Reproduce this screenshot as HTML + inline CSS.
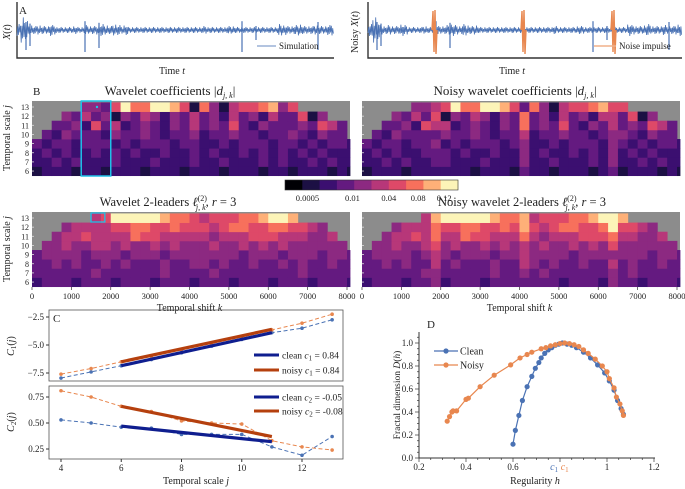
<!DOCTYPE html>
<html><head><meta charset="utf-8">
<style>
html,body{margin:0;padding:0;background:#fff;}
svg{display:block;font-family:"Liberation Serif",serif;}
</style></head>
<body>
<svg id="fig" width="685" height="489" viewBox="0 0 685 489"></svg>
<script>
// ---------- DATA ----------
const envClean = [6,14,9,5,4,5,4,4,6,5,3,3,3,3,4,3,3,5,4,4,5,6,5,4,6,5,4,5,3,3,3,3,3,3,3,3,3,3,3,3,3,3,3,3,3,3,3,4,3,3,3,3,3,4,4,3,3,3,3,3,3,3,3,3,3,3,6,5,4,4,5,6,4,4,4,5,4,4,5,6];
const spikeCleanX = [9,13,68,82,225,239,301];
const spikeCleanLen = [20,16,22,18,22,10,20];
const impulseX = [66,155,245];
const sigPattern = [1,-0.6,0.8,-1,0.4,-0.7,0.9,-0.3,0.6,-0.9,0.5,-0.5];

const coefRows = {
 13:"-----4436977998617415667846------",
 12:"---435341435424353425342533614---",
 11:"--334263523432435343632433343653-",
 10:"-3243332433432334233433233432433-",
 9: "323323332323332332232333233232332",
 8: "232322323232232232322323232323222",
 7: "223232223222322232232223232232322",
 6: "122212212221222122212221221222121"
};
const leaderRows = {
 13:"------569999987765666778998------",
 12:"---455556677667666567766776654---",
 11:"--45565555766555554555666555445--",
 10:"-4454455454454544454454545444444-",
 9: "344443444344434444444344434443443",
 8: "334343343433343344343343343433433",
 7: "333333433333343333433333333433333",
 6: "233323332333233323332333233323332"
};
const noisyCols = [7,16,25];
const cbTicks = ["0.0005","0.01","0.04","0.08","0.12"];
const cbTickPos = [0.13,0.39,0.6,0.77,0.92];
const kTicks = [0,1000,2000,3000,4000,5000,6000,7000,8000];

const scales = [4,5,6,7,8,9,10,11,12,13];
const c1Clean = [-7.95,-7.4,-6.85,-6.3,-5.7,-5.1,-4.5,-3.9,-3.5,-2.75];
const c1Noisy = [-7.6,-7.1,-6.5,-6.0,-5.4,-4.85,-4.25,-3.65,-3.05,-2.25];
const c2Clean = [0.53,0.50,0.46,0.45,0.39,0.39,0.39,0.27,0.19,0.37];
const c2Noisy = [0.81,0.75,0.66,0.61,0.52,0.50,0.49,0.33,0.27,0.24];
const fitRange = [6,11];
const fitC1Clean = [-6.85,-3.9];
const fitC1Noisy = [-6.5,-3.6];
const fitC2Clean = [0.47,0.32];
const fitC2Noisy = [0.66,0.37];

const hClean = [0.60,0.61,0.625,0.64,0.66,0.68,0.695,0.71,0.72,0.735,0.75,0.765,0.78,0.795,0.81,0.83,0.85,0.87,0.9,0.93,0.96,0.99,1.01,1.03,1.045,1.06,1.07];
const dClean = [0.12,0.24,0.37,0.50,0.62,0.71,0.78,0.83,0.87,0.91,0.94,0.96,0.98,0.99,1.0,0.99,0.98,0.96,0.92,0.87,0.81,0.74,0.67,0.59,0.50,0.43,0.38];
const hNoisy = [0.32,0.33,0.34,0.345,0.36,0.40,0.41,0.46,0.52,0.59,0.63,0.66,0.68,0.72,0.74,0.76,0.78,0.80,0.82,0.84,0.86,0.88,0.90,0.92,0.95,0.98,1.0,1.01,1.03,1.04,1.055,1.065,1.07];
const dNoisy = [0.32,0.36,0.40,0.41,0.41,0.51,0.52,0.62,0.72,0.81,0.87,0.90,0.92,0.95,0.96,0.975,0.985,0.995,1.0,0.995,0.985,0.97,0.94,0.91,0.86,0.80,0.75,0.69,0.61,0.53,0.47,0.41,0.37];
const hTicks = [0.2,0.4,0.6,0.8,1.0,1.2];
const hTickLabels = ["0.2","0.4","0.6","","1","1.2"];
const dTicks = [0,0.2,0.4,0.6,0.8,1.0];

// ---------- HELPERS ----------
const NS="http://www.w3.org/2000/svg";
const svg=document.getElementById('fig');
function mk(tag,attrs,parent){const e=document.createElementNS(NS,tag);for(const k in attrs)e.setAttribute(k,attrs[k]);(parent||svg).appendChild(e);return e;}
function txt(x,y,s,opts,name){const e=mk('text',Object.assign({x:x,y:y,'font-size':10,fill:'#222'},opts||{}));e.innerHTML=s;


return e;}
const BLUE="#4a72b4", ORANGE="#e8874f", NAVY="#0f1e8f", BROWN="#b5400e";
const magma=["#000004","#1c1044","#3b0f70","#641a80","#8c2981","#b73779","#de4968","#f7705c","#feb078","#fcf4b8"];

// ---------- PANEL A ----------
function series(x0,x1,yc,env,spX,spL,color,gName){
 const g=mk('g',{});
 
 
 let d="";
 for(let x=x0;x<x1;x+=0.7){
  const i=Math.min(env.length-1,Math.floor((x-x0)/((x1-x0)/env.length)));
  const p=sigPattern[Math.floor(x*1.43)%sigPattern.length];
  d+=(d?"L":"M")+x.toFixed(1)+","+(yc+env[i]*p).toFixed(1);
 }
 mk('path',{d:d,stroke:color,'stroke-width':0.8,fill:'none'},g);
 spX.forEach((sx,i)=>{mk('line',{x1:x0+sx,x2:x0+sx,y1:yc-spL[i]*0.4,y2:yc+spL[i],stroke:color,'stroke-width':1.2},g);});
 return g;
}
function axesA(x0,x1,name){
 const p=mk('path',{d:`M${x0},2 L${x0},58 L${x1},58`,stroke:'#333','stroke-width':1.4,fill:'none'});
 
 
}
axesA(17,334,'signal-axes');
series(17,334,30,envClean,spikeCleanX,spikeCleanLen,BLUE,'clean-signal');
txt(19,14,"A",{'font-size':11},'panel-label-a');
txt(10,32,"<tspan font-style='italic'>X</tspan>(<tspan font-style='italic'>t</tspan>)",{'font-size':10,transform:'rotate(-90 10 32)','text-anchor':'middle'},'y-axis-title-signal');
txt(172,74,"Time <tspan font-style='italic'>t</tspan>",{'font-size':10,'text-anchor':'middle'},'x-axis-title-time');
mk('line',{x1:257,x2:276,y1:46,y2:46,stroke:'#9ab0d6','stroke-width':1.5});
txt(279,49,"Simulation",{'font-size':9},'legend-simulation');

axesA(368,682,'noisy-signal-axes');
series(368,682,30,envClean,spikeCleanX,spikeCleanLen,BLUE,'noisy-signal');
impulseX.forEach((ix,i)=>{
 const ln=mk('path',{d:`M${368+ix-2},${30} L${368+ix-1},${11} L${368+ix},${52} L${368+ix+1},${10} L${368+ix+2},${54} L${368+ix+3},${30}`,stroke:ORANGE,'stroke-width':1.4,fill:'none'});
 
 
});
txt(358,32,"Noisy <tspan font-style='italic'>X</tspan>(<tspan font-style='italic'>t</tspan>)",{'font-size':10,transform:'rotate(-90 358 32)','text-anchor':'middle'},'y-axis-title-noisy-signal');
txt(512,74,"Time <tspan font-style='italic'>t</tspan>",{'font-size':10,'text-anchor':'middle'},'x-axis-title-time-noisy');
mk('line',{x1:594,x2:616,y1:46,y2:46,stroke:'#f0b08a','stroke-width':1.5});
txt(619,49,"Noise impulse",{'font-size':9},'legend-noise-impulse');

// ---------- PANEL B ----------
function heatmap(x0,yTop,rows,noisy,name){
 const W=315, xs=k=>x0+k*W/8000, rowH=9.15;
 const y13=yTop+6;
 const g=mk('g',{});
 
 
 mk('rect',{x:x0,y:yTop,width:W+3,height:75,fill:'#8c8c8c'},g);
 for(let j=6;j<=13;j++){
  const s=rows[j];
  const y=y13+(13-j)*rowH-rowH/2;
  for(let i=0;i<s.length;i++){
   if(s[i]==='-')continue;
   let v=+s[i];
   if(noisy&&noisyCols.includes(i))v=Math.min(9,v+(j>=11?2:1));
   const x=xs(i*250), w=Math.min(xs((i+1)*250),x0+W+3)-x;
   const c=mk('rect',{x:x.toFixed(2),y:y.toFixed(2),width:(w+0.4).toFixed(2),height:rowH+0.4,fill:magma[v]},g);
   
   
  }
  mk('line',{x1:x0,x2:x0+2,y1:y+rowH/2,y2:y+rowH/2,stroke:'#ddd','stroke-width':0.8},g);
 }
 return {g:g,xs:xs,y13:y13,rowH:rowH};
}
function yLabelsHeat(x0,yTop,name){
 for(let j=6;j<=13;j++){
  txt(x0-3,yTop+6+(13-j)*9.15+3,String(j),{'font-size':8,'text-anchor':'end'},'y-tick-label');
 }
 txt(10,yTop+37,"Temporal scale <tspan font-style='italic'>j</tspan>",{'font-size':10,transform:`rotate(-90 10 ${yTop+37})`,'text-anchor':'middle'},name);
}
txt(33,95,"B",{'font-size':11},'panel-label-b');
txt(170,95,"Wavelet coefficients |<tspan font-style='italic'>d</tspan><tspan font-size='8' dy='3' font-style='italic'>j, k</tspan><tspan dy='-3'>|</tspan>",{'font-size':13,'text-anchor':'middle'},'title-wavelet-coefficients');
txt(515,95,"Noisy wavelet coefficients |<tspan font-style='italic'>d</tspan><tspan font-size='8' dy='3' font-style='italic'>j, k</tspan><tspan dy='-3'>|</tspan>",{'font-size':13,'text-anchor':'middle'},'title-noisy-wavelet-coefficients');
const h1=heatmap(32,101,coefRows,false,'heatmap-coefficients');
const h2=heatmap(362,101,coefRows,true,'heatmap-noisy-coefficients');
yLabelsHeat(32,101,'y-axis-title-scale-top');
const sel=mk('rect',{x:h1.xs(1250),y:101,width:h1.xs(2000)-h1.xs(1250),height:75,fill:'none',stroke:'#1ec0e8','stroke-width':1.5});


mk('circle',{cx:h1.xs(1650),cy:107,r:1.2,fill:'#1ec0e8'});

const cbg=mk('g',{});


magma.forEach((c,i)=>mk('rect',{x:285+i*17.3,y:180,width:17.8,height:10,fill:c},cbg));
mk('rect',{x:285,y:180,width:173,height:10,fill:'none',stroke:'#333','stroke-width':0.6},cbg);
cbTicks.forEach((t,i)=>txt(285+cbTickPos[i]*173,201,t,{'font-size':8.5,'text-anchor':'middle'},'colorbar-tick-label'));

function leaderTitle(cx,prefix,name){
 const t=txt(cx,206,prefix+" <tspan font-style='italic'>ℓ</tspan><tspan font-size='8' dy='-5'>(2)</tspan><tspan font-size='8' dx='-11' dy='9' font-style='italic'>j, k</tspan><tspan dy='-4'>, </tspan><tspan font-style='italic'>r</tspan> = 3",{'font-size':12.5,'text-anchor':'middle'},name);
 return t;
}
leaderTitle(168,"Wavelet 2-leaders",'title-wavelet-leaders');
leaderTitle(522,"Noisy wavelet 2-leaders",'title-noisy-wavelet-leaders');
const h3=heatmap(32,212,leaderRows,false,'heatmap-leaders');
const h4=heatmap(362,212,leaderRows,true,'heatmap-noisy-leaders');
yLabelsHeat(32,212,'y-axis-title-scale-bottom');
const sel2=mk('rect',{x:h3.xs(1500),y:213,width:h3.xs(1850)-h3.xs(1500),height:9,fill:'none',stroke:'#1ec0e8','stroke-width':1.3});


[h3,h4].forEach((h,hi)=>{
 kTicks.forEach(k=>{
  mk('line',{x1:h.xs(k),x2:h.xs(k),y1:287,y2:290,stroke:'#333','stroke-width':0.7});
  txt(h.xs(k),299,String(k),{'font-size':8.5,'text-anchor':'middle'},'x-tick-label');
 });
 txt(h.xs(4000),311,"Temporal shift <tspan font-style='italic'>k</tspan>",{'font-size':10,'text-anchor':'middle'},hi?'x-axis-title-shift-noisy':'x-axis-title-shift');
});

// ---------- PANEL C ----------
const cx=j=>61+(j-4)*(302-61)/8;
const cy1=v=>317+(-2.5-v)*(373-317)/5;
const cy2=v=>397+(0.75-v)*(449-397)/0.5;
function frame(x,y,w,h,name){const r=mk('rect',{x:x,y:y,width:w,height:h,fill:'none',stroke:'#555','stroke-width':0.8});}
frame(49,310,294,71,'c1-axes');
frame(49,386,294,73,'c2-axes');
function dashed(xsArr,ys,fy,color,name){
 const d=xsArr.map((j,i)=>(i?'L':'M')+cx(j).toFixed(1)+','+fy(ys[i]).toFixed(1)).join('');
 const p=mk('path',{d:d,stroke:color,'stroke-width':1,'stroke-dasharray':'4,2.5',fill:'none'});
 
 
 xsArr.forEach((j,i)=>{const c=mk('circle',{cx:cx(j),cy:fy(ys[i]),r:1.8,fill:color});
 
 });
}
function fit(vals,fy,color,name){
 const l=mk('line',{x1:cx(fitRange[0]),x2:cx(fitRange[1]),y1:fy(vals[0]),y2:fy(vals[1]),stroke:color,'stroke-width':3.2});
 
 
}
dashed(scales,c1Clean,cy1,BLUE,'c1-clean');
dashed(scales,c1Noisy,cy1,ORANGE,'c1-noisy');
fit(fitC1Clean,cy1,NAVY,'c1-clean-fit');
fit(fitC1Noisy,cy1,BROWN,'c1-noisy-fit');
dashed(scales,c2Clean,cy2,BLUE,'c2-clean');
dashed(scales,c2Noisy,cy2,ORANGE,'c2-noisy');
fit(fitC2Clean,cy2,NAVY,'c2-clean-fit');
fit(fitC2Noisy,cy2,BROWN,'c2-noisy-fit');
[-2.5,-5.0,-7.5].forEach(v=>{mk('line',{x1:46,x2:49,y1:cy1(v),y2:cy1(v),stroke:'#333'});txt(44,cy1(v)+3,v.toFixed(1).replace('-','−'),{'font-size':9,'text-anchor':'end'},'c1-y-tick-label');});
[0.75,0.5,0.25].forEach(v=>{mk('line',{x1:46,x2:49,y1:cy2(v),y2:cy2(v),stroke:'#333'});txt(44,cy2(v)+3,v.toFixed(2),{'font-size':9,'text-anchor':'end'},'c2-y-tick-label');});
[4,6,8,10,12].forEach(j=>{mk('line',{x1:cx(j),x2:cx(j),y1:459,y2:462,stroke:'#333'});txt(cx(j),471,String(j),{'font-size':9,'text-anchor':'middle'},'c-x-tick-label');});
txt(196,484,"Temporal scale <tspan font-style='italic'>j</tspan>",{'font-size':10,'text-anchor':'middle'},'x-axis-title-scale');
txt(53,322,"C",{'font-size':11},'panel-label-c');
txt(14,346,"<tspan font-style='italic'>C</tspan><tspan font-size='7' dy='2'>1</tspan><tspan dy='-2'>(</tspan><tspan font-style='italic'>j</tspan>)",{'font-size':10,transform:'rotate(-90 14 346)','text-anchor':'middle'},'y-axis-title-c1');
txt(14,422,"<tspan font-style='italic'>C</tspan><tspan font-size='7' dy='2'>2</tspan><tspan dy='-2'>(</tspan><tspan font-style='italic'>j</tspan>)",{'font-size':10,transform:'rotate(-90 14 422)','text-anchor':'middle'},'y-axis-title-c2');
function legC(y,color,label,name){mk('line',{x1:254,x2:279,y1:y,y2:y,stroke:color,'stroke-width':3});txt(282,y+3.5,label,{'font-size':9.5},name);}
legC(355,NAVY,"clean <tspan font-style='italic'>c</tspan><tspan font-size='7' dy='2'>1</tspan><tspan dy='-2'> = 0.84</tspan>",'legend-clean-c1');
legC(370,BROWN,"noisy <tspan font-style='italic'>c</tspan><tspan font-size='7' dy='2'>1</tspan><tspan dy='-2'> = 0.84</tspan>",'legend-noisy-c1');
legC(397,NAVY,"clean <tspan font-style='italic'>c</tspan><tspan font-size='7' dy='2'>2</tspan><tspan dy='-2'> = -0.05</tspan>",'legend-clean-c2');
legC(411,BROWN,"noisy <tspan font-style='italic'>c</tspan><tspan font-size='7' dy='2'>2</tspan><tspan dy='-2'> = -0.08</tspan>",'legend-noisy-c2');

// ---------- PANEL D ----------
const dx=h=>419+(h-0.2)*235;
const dy=v=>458-v*115;
const axD=mk('path',{d:'M419,332 L419,458 L655,458',stroke:'#333','stroke-width':1,fill:'none'});


for(let h=0.2;h<=1.2001;h+=0.05){mk('line',{x1:dx(h),x2:dx(h),y1:458,y2:Math.abs(h*5-Math.round(h*5))<0.01?462:460,stroke:'#333','stroke-width':0.7});}
for(let v=0;v<=1.0501;v+=0.05){mk('line',{x1:419,x2:Math.abs(v*5-Math.round(v*5))<0.01?415:417,y1:dy(v),y2:dy(v),stroke:'#333','stroke-width':0.7});}
hTicks.forEach((h,i)=>txt(dx(h),470,hTickLabels[i],{'font-size':9,'text-anchor':'middle'},'d-x-tick-label'));
dTicks.forEach(v=>txt(413,dy(v)+3,v.toFixed(1),{'font-size':9,'text-anchor':'end'},'d-y-tick-label'));
txt(dx(0.775),470,"<tspan font-style='italic'>c</tspan><tspan font-size='7' dy='2'>1</tspan>",{'font-size':10,'text-anchor':'middle',fill:BLUE},'c1-clean-marker-label');
txt(dx(0.82),470,"<tspan font-style='italic'>c</tspan><tspan font-size='7' dy='2'>1</tspan>",{'font-size':10,'text-anchor':'middle',fill:ORANGE},'c1-noisy-marker-label');
function spec(hs,ds,color,name){
 const d=hs.map((h,i)=>(i?'L':'M')+dx(h).toFixed(1)+','+dy(ds[i]).toFixed(1)).join('');
 const p=mk('path',{d:d,stroke:color,'stroke-width':1.2,fill:'none'});
 
 
 hs.forEach((h,i)=>{const c=mk('circle',{cx:dx(h),cy:dy(ds[i]),r:2.6,fill:color});
 
 });
}
spec(hClean,dClean,BLUE,'spectrum-clean');
spec(hNoisy,dNoisy,ORANGE,'spectrum-noisy');
txt(427,328,"D",{'font-size':11},'panel-label-d');
mk('line',{x1:434,x2:458,y1:351,y2:351,stroke:BLUE,'stroke-width':1.2});mk('circle',{cx:446,cy:351,r:2.6,fill:BLUE});
txt(460,354.5,"Clean",{'font-size':10},'legend-clean');
mk('line',{x1:434,x2:458,y1:365,y2:365,stroke:ORANGE,'stroke-width':1.2});mk('circle',{cx:446,cy:365,r:2.6,fill:ORANGE});
txt(460,368.5,"Noisy",{'font-size':10},'legend-noisy');
txt(400,395,"Fractal dimension <tspan font-style='italic'>D</tspan>(<tspan font-style='italic'>h</tspan>)",{'font-size':9.5,transform:'rotate(-90 400 395)','text-anchor':'middle'},'y-axis-title-fractal-dimension');
txt(535,484,"Regularity <tspan font-style='italic'>h</tspan>",{'font-size':10,'text-anchor':'middle'},'x-axis-title-regularity');
</script>
</body></html>
